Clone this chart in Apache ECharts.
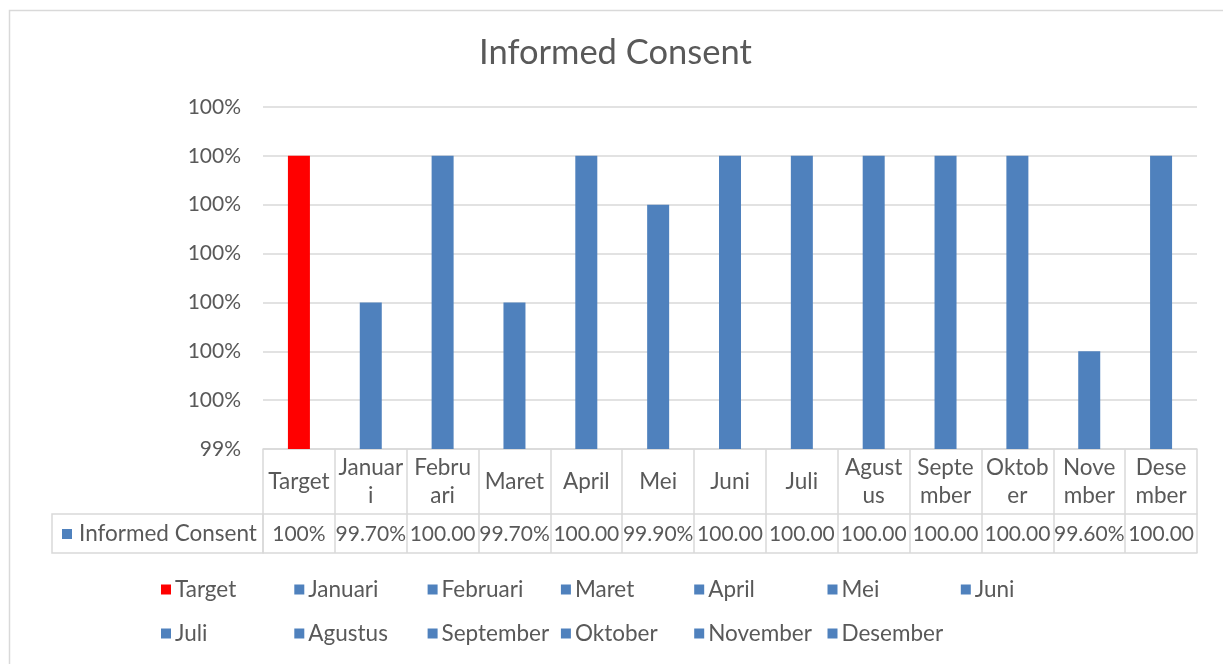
<!DOCTYPE html>
<html lang="en">
<head>
    <meta charset="UTF-8">
    <title>Informed Consent</title>
    <style>
        html, body { margin: 0; padding: 0; background: #fff; }
        #m1 { width: 1223px; height: 664px; }
    </style>
</head>
<body>
<div id="m1"></div>
<script src="https://cdn.jsdelivr.net/npm/echarts@6/dist/echarts.min.js"></script>
<script>
    // data
    var months = ['Target', 'Januari', 'Februari', 'Maret', 'April', 'Mei', 'Juni',
        'Juli', 'Agustus', 'September', 'Oktober', 'November', 'Desember'];
    // category labels as wrapped in the table cells
    var monthLabels = ['Target', 'Januar\ni', 'Febru\nari', 'Maret', 'April', 'Mei', 'Juni',
        'Juli', 'Agust\nus', 'Septe\nmber', 'Oktob\ner', 'Nove\nmber', 'Dese\nmber'];
    var values = [100, 99.7, 100, 99.7, 100, 99.9, 100, 100, 100, 100, 100, 99.6, 100];
    // data table row, as printed (cut off in the cells)
    var tableLabels = ['100%', '99.70%', '100.00', '99.70%', '100.00', '99.90%', '100.00',
        '100.00', '100.00', '100.00', '100.00', '99.60%', '100.00'];
    var yMin = 99.4, yMax = 100.1, yStep = 0.1;

    var blue = '#4F81BD', red = '#FF0000';
    var textColor = '#595959', lineColor = '#D9D9D9';
    var font = 'Lato, "Open Sans", sans-serif';

    var gridLeft = 263, gridRight = 26, gridTop = 107, gridBottom = 215;

    var my1 = echarts.init(document.getElementById('m1'));

    // one series per month so the legend lists every bar
    var series = months.map(function (name, i) {
        var d = months.map(function (m, j) { return j === i ? values[i] : null; });
        return {
            name: name,
            type: 'bar',
            data: d,
            barWidth: 22,
            barGap: '-100%',
            itemStyle: { color: i === 0 ? red : blue },
            emphasis: { disabled: true }
        };
    });

    // legend laid out like Excel: fixed columns, 7 per row
    var legends = months.map(function (name, i) {
        return {
            data: [name],
            left: 161 + (i % 7) * 133.3,
            top: 578 + Math.floor(i / 7) * 44,
            itemWidth: 10,
            itemHeight: 10,
            icon: 'rect',
            padding: 0,
            textStyle: { color: textColor, fontSize: 22.5, fontFamily: font, padding: [0, 0, 0, -1] }
        };
    });

    var option1 = {
        backgroundColor: '#fff',
        animation: false,
        title: {
            text: 'Informed Consent',
            left: 474,
            top: 30,
            textStyle: { color: textColor, fontSize: 34.5, fontWeight: 'normal', fontFamily: font }
        },
        legend: legends,
        grid: { left: gridLeft, right: gridRight, top: gridTop, bottom: gridBottom },
        xAxis: [
            {
                type: 'category',
                data: monthLabels,
                axisLine: { lineStyle: { color: lineColor, width: 1.5 } },
                axisTick: { show: true, length: 104, lineStyle: { color: lineColor, width: 1.5 } },
                axisLabel: {
                    interval: 0, margin: 33, verticalAlign: 'middle', lineHeight: 28,
                    color: textColor, fontSize: 22.5, fontFamily: font
                }
            },
            {
                type: 'category',
                data: tableLabels,
                position: 'bottom',
                offset: 65,
                axisLine: { lineStyle: { color: lineColor, width: 1.5 } },
                axisTick: { show: false },
                axisLabel: {
                    interval: 0, margin: 20, verticalAlign: 'middle',
                    color: textColor, fontSize: 21, fontFamily: font
                }
            },
            {
                type: 'category',
                data: months,
                position: 'bottom',
                offset: 104,
                axisLine: { lineStyle: { color: lineColor, width: 1.5 } },
                axisTick: { show: false },
                axisLabel: { show: false }
            }
        ],
        yAxis: {
            type: 'value',
            min: yMin,
            max: yMax,
            interval: yStep,
            axisLine: { show: false },
            axisTick: { show: false },
            splitLine: { lineStyle: { color: lineColor, width: 1.5 } },
            axisLabel: {
                margin: 22,
                color: textColor, fontSize: 21, fontFamily: font,
                formatter: function (v) { return Math.round(v) + '%'; }
            }
        },
        series: series,
        graphic: [
            // outer chart frame
            {
                type: 'rect', left: 7, top: 8, silent: true,
                shape: { x: 0, y: 0, width: 1300, height: 700 },
                style: { fill: 'none', stroke: lineColor, lineWidth: 1.5 }
            },
            // series name cell of the data table
            {
                type: 'rect', silent: true,
                shape: { x: 52, y: 664 - gridBottom + 65, width: gridLeft - 52, height: 39 },
                style: { fill: 'none', stroke: lineColor, lineWidth: 1.5 }
            },
            {
                type: 'rect', silent: true,
                shape: { x: 62, y: 664 - gridBottom + 80, width: 10, height: 10 },
                style: { fill: blue }
            },
            {
                type: 'text', silent: true,
                x: 79, y: 664 - gridBottom + 85,
                style: {
                    text: 'Informed Consent', fill: textColor, fontSize: 22.5, fontFamily: font,
                    verticalAlign: 'middle'
                }
            }
        ]
    };
    my1.setOption(option1);
</script>
</body>
</html>
